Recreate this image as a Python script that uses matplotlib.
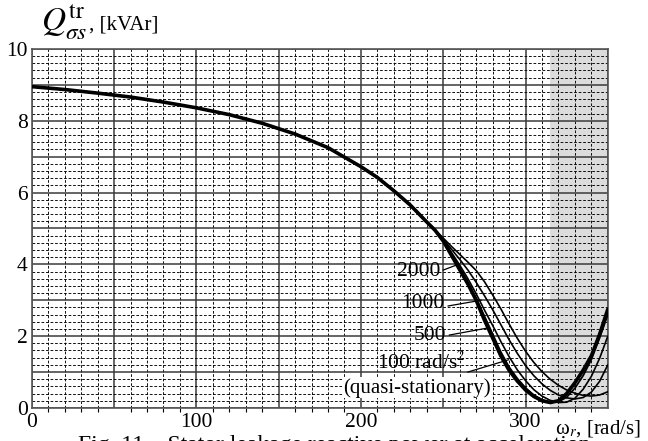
import numpy as np
import matplotlib
matplotlib.use("Agg")
import matplotlib.pyplot as plt
from matplotlib.ticker import MultipleLocator

plt.rcParams["font.family"] = ["Liberation Serif", "DejaVu Serif"]
plt.rcParams["mathtext.fontset"] = "stix"

# common part of all curves (before they split)
x_common = [0, 20, 40, 60, 80, 100, 120, 140, 160, 180, 200, 210, 220, 230, 240]
q_common = [8.95, 8.87, 8.77, 8.66, 8.52, 8.36, 8.17, 7.93, 7.63, 7.25, 6.72,
            6.42, 6.05, 5.65, 5.18]

# split part, one list per acceleration
x_split = [245, 250, 255, 260, 265, 270, 275, 280, 285, 290, 295, 300, 305,
           310, 315, 320, 325, 330, 335, 340, 345, 350]
q_quasi = [4.95, 4.65, 4.25, 3.85, 3.45, 3.0, 2.45, 1.95, 1.45, 1.05, 0.75, 0.5,
           0.32, 0.2, 0.15, 0.2, 0.4, 0.7, 1.05, 1.45, 2.05, 2.75]
q_100 = [4.95, 4.66, 4.28, 3.9, 3.5, 3.06, 2.56, 2.06, 1.56, 1.14, 0.82, 0.56,
         0.36, 0.23, 0.16, 0.17, 0.3, 0.55, 0.9, 1.35, 1.95, 2.6]
q_500 = [4.95, 4.67, 4.33, 3.98, 3.6, 3.18, 2.73, 2.3, 1.85, 1.43, 1.06, 0.76,
         0.51, 0.33, 0.21, 0.15, 0.16, 0.27, 0.52, 0.88, 1.38, 2.0]
q_1000 = [4.96, 4.7, 4.42, 4.14, 3.84, 3.5, 3.13, 2.74, 2.32, 1.9, 1.52, 1.18,
          0.9, 0.67, 0.49, 0.36, 0.28, 0.25, 0.29, 0.44, 0.74, 1.2]
q_2000 = [4.97, 4.73, 4.5, 4.28, 4.06, 3.83, 3.52, 3.15, 2.76, 2.34, 1.94, 1.58,
          1.27, 1.01, 0.8, 0.63, 0.5, 0.41, 0.35, 0.33, 0.36, 0.45]

curves = [("quasi", q_quasi, 2.6), ("100", q_100, 1.3), ("500", q_500, 1.2),
          ("1000", q_1000, 1.2), ("2000", q_2000, 1.2)]

# label text, text anchor (right edge), leader start, leader end
labels = [
    ("2000", (248, 3.79), (250, 3.84), (258, 3.98)),
    ("1000", (250.5, 2.92), (253, 2.84), (273, 3.0)),
    ("500", (252, 2.03), (253.7, 2.03), (277.4, 2.23)),
    ("100 rad/s$^2$", (264, 1.25), (265, 1.0), (289.6, 1.34)),
]

fig = plt.figure(figsize=(6.48, 4.41), dpi=100)
ax = fig.add_axes([0.049, 0.075, 0.889, 0.814])

ax.axvspan(315, 350, color="#dcdcdc", zorder=0, lw=0)

ax.set_xlim(0, 350)
ax.set_ylim(0, 10)
ax.xaxis.set_minor_locator(MultipleLocator(10))
ax.yaxis.set_minor_locator(MultipleLocator(0.2))
ax.set_xticks(np.arange(0, 351, 50))
ax.set_xticklabels(["0", "", "100", "", "200", "", "300", ""])
ax.set_yticks(np.arange(0, 11, 1))
ax.set_yticklabels(["0", "", "2", "", "4", "", "6", "", "8", "", "10"])
ax.grid(which="major", color="#3a3a3a", lw=1.1, ls="-", zorder=1)
ax.grid(which="minor", color="black", lw=0.65, ls=(0, (3, 2)), zorder=1)
ax.set_axisbelow(True)

ax.tick_params(which="both", length=0, labelsize=15.5)
ax.tick_params(axis="x", which="minor", length=3, width=0.8, color="black",
               direction="out")
ax.tick_params(axis="x", pad=4)
ax.tick_params(axis="y", pad=3)
for s in ax.spines.values():
    s.set_color("#555555")
    s.set_linewidth(1.2)

for name, q, lw in curves:
    xs = x_common + x_split
    ys = q_common + q
    ax.plot(xs, ys, color="black", lw=lw, solid_capstyle="round", zorder=3)

for txt, pos, p0, p1 in labels:
    ax.text(pos[0], pos[1], txt, ha="right", va="center", fontsize=15.5, zorder=4)
    ax.plot([p0[0], p1[0]], [p0[1], p1[1]], color="black", lw=0.9, zorder=4)

ax.text(189, 0.56, "(quasi-stationary)", ha="left", va="center", fontsize=15,
        zorder=4, bbox=dict(fc="white", ec="none", pad=0.5))

fig.text(0.063, 0.93, r"$Q_{\sigma s}^{\rm tr}$", fontsize=24, ha="left",
         va="baseline")
fig.text(0.138, 0.932, ", [kVAr]", fontsize=15, ha="left", va="baseline")
fig.text(0.857, 0.018, "ω$_r$, [rad/s]", fontsize=15, ha="left",
         va="baseline")
fig.text(0.12, -0.01, "Fig. 11.   Stator leakage reactive power at acceleration",
         fontsize=17, ha="left", va="center")

fig.savefig("out.png", dpi=100)
